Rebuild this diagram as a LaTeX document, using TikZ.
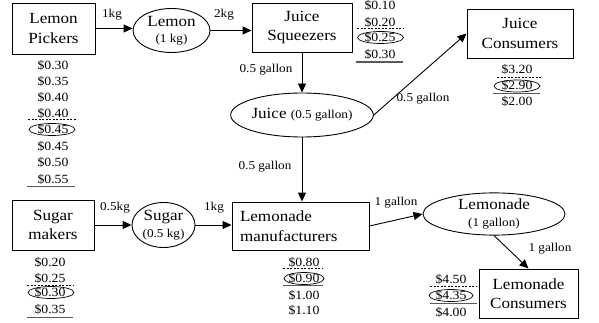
\documentclass[tikz,border=0pt]{standalone}
\usepackage{fontspec}
\setmainfont{Liberation Serif}[FakeStretch=1.1]
\usetikzlibrary{shapes.geometric,arrows.meta}
\newcommand\fbig{\fontsize{15.5}{19.5}\selectfont}
\newcommand\fprice{\fontsize{12.5}{14}\selectfont}
\newcommand\flab{\fontsize{12}{14}\selectfont}
\begin{document}
\begin{tikzpicture}[x=1pt,y=-1pt,
  box/.style={draw,rectangle,line width=0.9pt,inner sep=0pt,align=center,font=\fbig},
  ell/.style={draw,ellipse,line width=0.9pt,inner sep=0pt,align=center,font=\fbig},
  flow/.style={line width=0.9pt,-{Triangle[length=9pt,width=8pt]}},
  lab/.style={font=\flab,inner sep=0pt},
  price/.style={font=\fprice,inner sep=0pt,anchor=base},
  pick/.style={draw,ellipse,line width=0.7pt,inner sep=0pt,minimum width=46pt,minimum height=12pt},
  dline/.style={line width=0.6pt,dash pattern=on 2pt off 1.5pt},
  sline/.style={line width=1.2pt,black!65}]
\useasboundingbox (0,0) rectangle (599,323);
% main nodes
\node[box,minimum width=83pt,minimum height=51pt] (LP) at (53.5,28.5) {Lemon\\Pickers};
\node[ell,minimum width=77pt,minimum height=44pt] (LE) at (171.5,30.5) {Lemon\\[-3pt]{\flab(1 kg)}};
\node[box,minimum width=100pt,minimum height=49pt] (JS) at (302,27.5) {Juice\\Squeezers};
\node[box,minimum width=106pt,minimum height=49pt] (JC) at (520,33.5) {Juice\\Consumers};
\node[ell,minimum width=125pt,minimum height=44pt] (JU) at (302,115) {Juice {\flab(0.5 gallon)}};
\node[box,align=left,text width=121pt,inner xsep=8pt,minimum height=48pt] (LM) at (300.5,226) {Lemonade\\manufacturers};
\node[ell,minimum width=142pt,minimum height=42pt] (LA) at (494,214) {Lemonade\\[-3pt]{\flab(1 gallon)}};
\node[box,minimum width=99pt,minimum height=49pt] (LC) at (528.5,293.5) {Lemonade\\Consumers};
\node[box,minimum width=82pt,minimum height=50pt] (SM) at (53,225) {Sugar\\makers};
\node[ell,minimum width=63pt,minimum height=45pt] (SU) at (163.5,225) {Sugar\\[-3pt]{\flab(0.5 kg)}};
% connectors
\draw[flow] (LP.east) -- (LP.east -| LE.west);
\draw[flow] (LE.east) -- (LE.east -| JS.west);
\draw[flow] (JS.south) -- (JU.north);
\draw[flow] (JU.east) -- (JC.west);
\draw[flow] (JU.south) -- (JU.south |- LM.north);
\draw[flow] (LM.east) -- (LA.west);
\draw[flow] (LA.south) -- (LC.north);
\draw[flow] (SM.east) -- (SU.west);
\draw[flow] (SU.east) -- (SU.east -| LM.west);
% connector labels
\node[lab] (l1) at (112,15) {1kg};
\node[lab] (l2) at (224,15) {2kg};
\node[lab] (l3) at (266,70) {0.5 gallon};
\node[lab] (l4) at (423,99) {0.5 gallon};
\node[lab] (l5) at (265,167) {0.5 gallon};
\node[lab] (l6) at (396,203) {1 gallon};
\node[lab] (l7) at (550,249) {1 gallon};
\node[lab] (l8) at (115,208) {0.5kg};
\node[lab] (l9) at (214,208) {1kg};
% Lemon pickers prices
\node[price] (lp1) at (53,69.5) {\$0.30};
\node[price] (lp2) at (53,85.5) {\$0.35};
\node[price] (lp3) at (53,101.5) {\$0.40};
\node[price] (lp4) at (53,117.5) {\$0.40};
\node[price] (lp5) at (53,133.5) {\$0.45};
\node[price] (lp6) at (53,150.5) {\$0.45};
\node[price] (lp7) at (53,166.5) {\$0.50};
\node[price] (lp8) at (53,183.5) {\$0.55};
\draw[dline] (28,119.5) -- (77,119.5);
\node[pick] (lpc) at (52,129.5) {};
\draw[sline] (27,186.5) -- (75,186.5);
% Juice squeezers prices
\node[price] (js1) at (380,9.5) {\$0.10};
\node[price] (js2) at (380,26.5) {\$0.20};
\draw[dline] (357,28.5) -- (403,28.5);
\node[price] (js3) at (380,41.5) {\$0.25};
\node[pick] (jsc) at (380.5,37.5) {};
\node[price] (js4) at (380,58.5) {\$0.30};
\draw[sline] (356,62) -- (403,62);
% Juice consumers prices
\node[price] (jc1) at (517,74) {\$3.20};
\draw[dline] (497,77.5) -- (542,77.5);
\node[price] (jc2) at (517,90) {\$2.90};
\node[pick] (jcc) at (517,86) {};
\draw[sline] (493,93.5) -- (540,93.5);
\node[price] (jc3) at (517,106) {\$2.00};
% Lemonade manufacturers prices
\node[price] (lm1) at (304,266.5) {\$0.80};
\draw[dline] (283,268.5) -- (323,268.5);
\node[price] (lm2) at (304,282.5) {\$0.90};
\node[pick,minimum width=40pt] (lmc) at (304,278.5) {};
\draw[sline] (283,285.5) -- (323,285.5);
\node[price] (lm3) at (304,299.5) {\$1.00};
\node[price] (lm4) at (304,314.5) {\$1.10};
% Lemonade consumers prices
\node[price] (lc1) at (451,283.5) {\$4.50};
\draw[dline] (430,286.5) -- (477,286.5);
\node[price] (lc2) at (451,299.5) {\$4.35};
\node[pick,minimum width=44pt] (lcc) at (451,295.5) {};
\draw[sline] (430,303.5) -- (477,303.5);
\node[price] (lc3) at (451,316.5) {\$4.00};
% Sugar makers prices
\node[price] (sm1) at (50,266.5) {\$0.20};
\node[price] (sm2) at (50,282) {\$0.25};
\draw[dline] (27,285) -- (73,285);
\node[price] (sm3) at (50,296.5) {\$0.30};
\node[pick] (smc) at (51,292.5) {};
\node[price] (sm4) at (50,313.5) {\$0.35};
\draw[sline] (27,317.5) -- (73,317.5);
\end{tikzpicture}
\end{document}
